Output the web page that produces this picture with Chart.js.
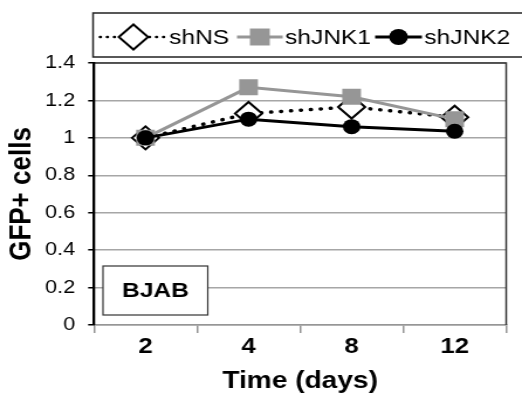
<!DOCTYPE html>
<html>
<head>
<meta charset="utf-8">
<script src="https://cdn.jsdelivr.net/npm/chart.js@4.4.1/dist/chart.umd.min.js"></script>
<style>
  html, body { margin: 0; padding: 0; background: #fff; overflow: hidden; }
  /* the original figure is stretched sideways, so draw narrow and widen */
  #wrap { width: 446px; height: 396px; position: relative; transform: scaleX(1.1704); transform-origin: 0 0; }
</style>
</head>
<body>
<div id="wrap"><canvas id="chart"></canvas></div>
<script>
const days = ['2', '4', '8', '12'];
const shNS = [1.0, 1.13, 1.165, 1.11];
const shJNK1 = [1.0, 1.27, 1.22, 1.10];
const shJNK2 = [1.0, 1.10, 1.06, 1.035];
const yTicks = [0, 0.2, 0.4, 0.6, 0.8, 1, 1.2, 1.4];
const cellLine = 'BJAB';

const FONT = 'Liberation Sans, Arial, sans-serif';
const GRAY = '#969696';

// legend drawn by hand so the line runs through the marker
const legendBox = {
    id: 'legendBox',
    afterDraw(chart) {
        const ctx = chart.ctx;
        const starts = [85.5, 202.5, 320.5];
        const y = 37;
        ctx.save();
        ctx.strokeStyle = '#222';
        ctx.lineWidth = 1.5;
        ctx.fillStyle = '#fff';
        ctx.fillRect(79.5, 13, 400, 44);
        ctx.strokeRect(79.5, 13, 400, 44);

        ctx.font = '21px ' + FONT;
        ctx.textBaseline = 'middle';
        chart.data.datasets.forEach((ds, i) => {
            const x = starts[i];
            const len = ds.legendLen;
            ctx.strokeStyle = ds.borderColor;
            ctx.lineWidth = ds.legendLineWidth;
            ctx.lineCap = ds.borderCapStyle || 'butt';
            ctx.setLineDash(ds.legendDash || []);
            ctx.beginPath();
            ctx.moveTo(x, y);
            ctx.lineTo(x + len, y);
            ctx.stroke();
            ctx.setLineDash([]);
            ctx.fillStyle = ds.pointBackgroundColor;
            ctx.strokeStyle = ds.pointBorderColor;
            ctx.lineWidth = ds.pointBorderWidth;
            Chart.helpers.drawPoint(ctx, {
                pointStyle: ds.pointStyle,
                radius: ds.legendRadius,
                rotation: 0,
                borderWidth: ds.pointBorderWidth
            }, x + len / 2, y);
            ctx.fillStyle = '#000';
            ctx.fillText(ds.label, x + len + 2, y + 1);
        });
        ctx.restore();
    }
};

const cellLabel = {
    id: 'cellLabel',
    afterDatasetsDraw(chart) {
        const ctx = chart.ctx;
        ctx.save();
        ctx.fillStyle = '#fff';
        ctx.strokeStyle = '#333';
        ctx.lineWidth = 1.2;
        ctx.fillRect(88, 266, 89.5, 49);
        ctx.strokeRect(88, 266, 89.5, 49);
        ctx.fillStyle = '#000';
        ctx.font = 'bold 21px ' + FONT;
        ctx.textAlign = 'center';
        ctx.textBaseline = 'middle';
        ctx.fillText(cellLine, 132.8, 291);
        ctx.restore();
    }
};

const frame = {
    id: 'frame',
    beforeDatasetsDraw(chart) {
        const a = chart.chartArea;
        const ctx = chart.ctx;
        ctx.save();
        ctx.strokeStyle = '#333';
        ctx.lineWidth = 1.5;
        ctx.beginPath();
        ctx.moveTo(a.left, a.top);
        ctx.lineTo(a.right, a.top);
        ctx.lineTo(a.right, a.bottom);
        ctx.stroke();
        ctx.strokeStyle = '#000';
        ctx.lineWidth = 2;
        ctx.beginPath();
        ctx.moveTo(a.left, a.top - 1);
        ctx.lineTo(a.left, a.bottom);
        ctx.stroke();
        ctx.restore();
    }
};

new Chart(document.getElementById('chart'), {
    type: 'line',
    data: {
        labels: days,
        datasets: [
            {
                label: 'shNS',
                data: shNS,
                borderColor: '#000',
                borderWidth: 3.5,
                borderDash: [0.5, 8],
                borderCapStyle: 'round',
                pointStyle: 'rectRot',
                pointRadius: 11.5,
                pointBorderWidth: 2,
                pointBackgroundColor: '#fff',
                pointBorderColor: '#000',
                legendLen: 57,
                legendRadius: 12.5,
                legendLineWidth: 2.5,
                legendDash: [0.5, 5.5],
                order: 3
            },
            {
                label: 'shJNK1',
                data: shJNK1,
                borderColor: GRAY,
                borderWidth: 3,
                pointStyle: 'rect',
                pointRadius: 11.3,
                pointBorderWidth: 0,
                pointBackgroundColor: GRAY,
                pointBorderColor: GRAY,
                legendLen: 39,
                legendRadius: 12,
                legendLineWidth: 3,
                order: 2
            },
            {
                label: 'shJNK2',
                data: shJNK2,
                borderColor: '#000',
                borderWidth: 3,
                pointStyle: 'circle',
                pointRadius: 7.5,
                pointBorderWidth: 0,
                pointBackgroundColor: '#000',
                pointBorderColor: '#000',
                legendLen: 40,
                legendRadius: 8,
                legendLineWidth: 3,
                order: 1
            }
        ]
    },
    options: {
        responsive: true,
        maintainAspectRatio: false,
        animation: false,
        layout: { padding: { top: 63, right: 1.7, left: 0, bottom: 0 } },
        plugins: {
            legend: { display: false },
            tooltip: { enabled: false }
        },
        scales: {
            x: {
                offset: true,
                grid: {
                    offset: true,
                    drawOnChartArea: false,
                    drawTicks: true,
                    tickLength: 8,
                    color: GRAY,
                    lineWidth: 1.5
                },
                border: { color: GRAY, width: 1.5 },
                ticks: {
                    color: '#000',
                    font: { family: FONT, size: 22, weight: 'bold' },
                    padding: 1
                },
                title: {
                    display: true,
                    text: 'Time (days)',
                    color: '#000',
                    font: { family: FONT, size: 24, weight: 'bold' },
                    padding: { top: 0, bottom: 0 }
                },
                afterFit(scale) { scale.height = 71; }
            },
            y: {
                min: 0,
                max: 1.4,
                afterBuildTicks(scale) {
                    scale.ticks = yTicks.map(v => ({ value: v }));
                },
                grid: {
                    color: '#a6a6a6',
                    lineWidth: 1.5,
                    tickLength: 5,
                    tickColor: '#000'
                },
                border: { color: '#000', width: 2 },
                ticks: {
                    color: '#000',
                    font: { family: FONT, size: 18.5 },
                    padding: 11,
                    callback: v => String(Math.round(v * 10) / 10)
                },
                title: {
                    display: true,
                    text: 'GFP+ cells',
                    color: '#000',
                    font: { family: FONT, size: 26, weight: 'bold' },
                    padding: { top: 3, bottom: 0 }
                },
                afterFit(scale) { scale.width = 80.3; }
            }
        }
    },
    plugins: [frame, cellLabel, legendBox]
});
</script>
</body>
</html>
